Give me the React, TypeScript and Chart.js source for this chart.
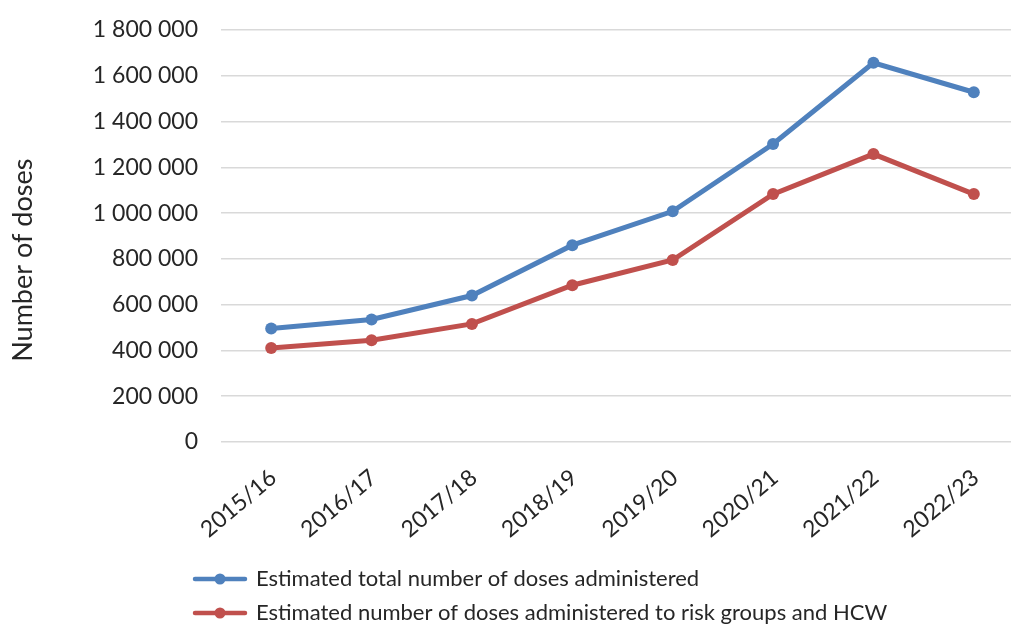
import React, { useEffect, useRef } from "react";
import { Chart, registerables } from "chart.js";

Chart.register(...registerables);

const categories = ["2015/16", "2016/17", "2017/18", "2018/19", "2019/20", "2020/21", "2021/22", "2022/23"];
const totalDoses = [496000, 535000, 640000, 860000, 1008000, 1302000, 1657000, 1528000];
const riskDoses = [411000, 445000, 516000, 685000, 795000, 1083000, 1258000, 1083000];
const seriesNames = [
  "Estimated total number of doses administered",
  "Estimated number of doses administered to risk groups and HCW",
];
const yTickMin = 0;
const yTickMax = 1800000;
const yTickStep = 200000;

const BLUE = "#4f81bd";
const RED = "#c0504d";
const FONT = "Lato";
const TEXT = "#262626";

function fmt(v: number) {
  return String(v).replace(/\B(?=(\d{3})+(?!\d))/g, " ");
}

function legendSymbol(color: string) {
  const c = document.createElement("canvas");
  c.width = 56;
  c.height = 14;
  const ctx = c.getContext("2d")!;
  ctx.strokeStyle = color;
  ctx.lineWidth = 4.5;
  ctx.lineCap = "round";
  ctx.beginPath();
  ctx.moveTo(3, 7);
  ctx.lineTo(53, 7);
  ctx.stroke();
  ctx.fillStyle = color;
  ctx.beginPath();
  ctx.arc(28, 7, 5.5, 0, Math.PI * 2);
  ctx.fill();
  return c;
}

const shiftLegend = {
  id: "shiftLegend",
  beforeDraw(chart: any) {
    if (chart.legend) chart.legend.left = 183;
  },
};

export default function App() {
  const ref = useRef<HTMLCanvasElement | null>(null);
  useEffect(() => {
    if (!ref.current) return;
    const symbols = [legendSymbol(BLUE), legendSymbol(RED)];
    const chart = new Chart(ref.current, {
      type: "line",
      data: {
        labels: categories,
        datasets: [
          {
            label: seriesNames[0],
            data: totalDoses,
            borderColor: BLUE,
            backgroundColor: BLUE,
            borderWidth: 5,
            pointRadius: 6,
            pointBackgroundColor: BLUE,
            pointBorderWidth: 0,
            tension: 0,
          },
          {
            label: seriesNames[1],
            data: riskDoses,
            borderColor: RED,
            backgroundColor: RED,
            borderWidth: 5,
            pointRadius: 6,
            pointBackgroundColor: RED,
            pointBorderWidth: 0,
            tension: 0,
          },
        ],
      },
      options: {
        animation: false,
        responsive: false,
        layout: { padding: { top: 30, right: 6, bottom: 2, left: 0 } },
        plugins: {
          tooltip: { enabled: false },
          legend: {
            position: "bottom",
            align: "start",
            labels: {
              usePointStyle: true,
              pointStyleWidth: 50,
              padding: 12,
              color: TEXT,
              font: { family: FONT, size: 22 },
              generateLabels(ch: any) {
                const items = Chart.defaults.plugins.legend.labels.generateLabels(ch);
                return items.map((it: any, i: number) => ({ ...it, pointStyle: symbols[i] }));
              },
            },
          },
        },
        scales: {
          x: {
            offset: true,
            grid: { display: false },
            border: { display: false },
            ticks: {
              minRotation: 40,
              maxRotation: 40,
              padding: 14,
              labelOffset: 2,
              color: TEXT,
              font: { family: FONT, size: 23 },
            },
            afterFit(scale: any) {
              scale.height = 114;
              scale.paddingLeft = 0;
              scale.paddingRight = 0;
            },
          },
          y: {
            min: yTickMin,
            max: yTickMax,
            grid: { color: "#d9d9d9", lineWidth: 1.5, drawTicks: false },
            border: { display: false },
            ticks: {
              stepSize: yTickStep,
              padding: 23,
              color: TEXT,
              font: { family: FONT, size: 23 },
              callback: (v: any) => fmt(Number(v)),
            },
            title: {
              display: true,
              text: "Number of doses" + "\u00a0".repeat(7),
              color: TEXT,
              font: { family: FONT, size: 27 },
              padding: { top: 7, bottom: 0 },
            },
            afterFit(scale: any) {
              scale.width = 221;
              scale.paddingTop = 0;
              scale.paddingBottom = 0;
            },
          },
        },
      },
      plugins: [shiftLegend],
    });
    return () => chart.destroy();
  }, []);
  return (
    <div style={{ position: "fixed", left: 0, top: 0, width: 1011, height: 626, overflow: "hidden", background: "#fff" }}>
      <canvas ref={ref} width={1030} height={636} style={{ display: "block" }} />
    </div>
  );
}
